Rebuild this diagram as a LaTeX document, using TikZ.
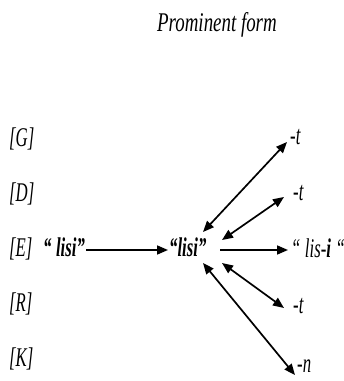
\documentclass[tikz,border=0pt]{standalone}
\usepackage{fontspec}
\setmainfont{Liberation Serif}[FakeStretch=0.62]
\newfontfamily\pffont{Liberation Serif}[FakeStretch=0.7]
\usetikzlibrary{arrows.meta}
\begin{document}
\begin{tikzpicture}[x=1pt,y=1pt,
  lbl/.style={font=\fontsize{27}{31}\selectfont\itshape, inner sep=0pt, anchor=base west},
  wd/.style={font=\fontsize{27}{31}\selectfont\bfseries\itshape, inner sep=0pt, anchor=base west},
  con/.style={line width=1.7pt, -{Triangle[length=11pt,width=9pt]}},
  dcon/.style={line width=1.7pt, {Triangle[length=11pt,width=9pt]}-{Triangle[length=11pt,width=9pt]}}]
\useasboundingbox (0,0) rectangle (344,381);
% title
\node[lbl, font=\fontsize{27}{31}\selectfont\pffont\itshape] (title) at (157,349) {Prominent form};
% row labels
\node[lbl] (G) at (9,234) {[G]};
\node[lbl] (D) at (9,179) {[D]};
\node[lbl] (E) at (9,124) {[E]};
\node[lbl] (R) at (9,69) {[R]};
\node[lbl] (K) at (9,14) {[K]};
% words
\node[wd] (src) at (43,124) {“\,lisi”};
\node[wd] (hub) at (169,124) {“lisi”};
% right labels
\node[lbl] (tG) at (290,236) {-t};
\node[lbl] (tD) at (293,180) {-t};
\node[lbl] (lisi) at (291,123) {“\,lis-\textbf{i}\,“};
\node[lbl] (tR) at (293,67) {-t};
\node[lbl] (nK) at (297,9) {-n};
% connector end points
\coordinate (sE) at (86,131);
\coordinate (eE) at (168,131);
\coordinate (hG) at (203,149);
\coordinate (aG) at (287,239);
\coordinate (hD) at (222,141);
\coordinate (aD) at (284,184);
\coordinate (hE) at (220,131);
\coordinate (aE) at (288,131);
\coordinate (hR) at (222,118);
\coordinate (aR) at (284,73);
\coordinate (hK) at (203,118);
\coordinate (aK) at (295,6);
% connectors
\draw[con] (sE) -- (eE);
\draw[dcon] (hG) -- (aG);
\draw[dcon] (hD) -- (aD);
\draw[con] (hE) -- (aE);
\draw[dcon] (hR) -- (aR);
\draw[dcon] (hK) -- (aK);
\end{tikzpicture}
\end{document}
